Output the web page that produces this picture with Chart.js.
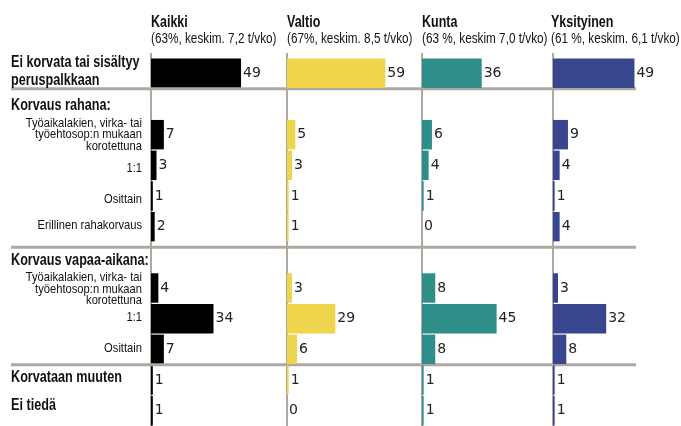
<!DOCTYPE html>
<html lang="fi">
<head>
<meta charset="UTF-8">
<title>Ylityökorvaukset</title>
<script src="https://cdn.jsdelivr.net/npm/chart.js"></script>
<style>
  html, body { margin: 0; padding: 0; background: #fff; }
  .wrap { position: relative; width: 681px; height: 426px; }
  .wrap canvas { position: absolute; left: 0; top: 0; }
</style>
</head>
<body>
<div class="wrap">
  <canvas id="c0" width="681" height="426"></canvas>
  <canvas id="c1" width="681" height="426"></canvas>
  <canvas id="c2" width="681" height="426"></canvas>
  <canvas id="c3" width="681" height="426"></canvas>
</div>
<script>
// rows (section headers have no bar)
const rowLabels = [
  ['Ei korvata tai sisältyy', 'peruspalkkaan'],
  ['Korvaus rahana:'],
  ['Työaikalakien, virka- tai', 'työehtosop:n mukaan', 'korotettuna'],
  ['1:1'],
  ['Osittain'],
  ['Erillinen rahakorvaus'],
  ['Korvaus vapaa-aikana:'],
  ['Työaikalakien, virka- tai', 'työehtosop:n mukaan', 'korotettuna'],
  ['1:1'],
  ['Osittain'],
  ['Korvataan muuten'],
  ['Ei tiedä']
];
const rowBold = [true, true, false, false, false, false, true, false, false, false, true, true];

const groups = ['Kaikki', 'Valtio', 'Kunta', 'Yksityinen'];
const groupNotes = [
  '(63%, keskim. 7,2 t/vko)',
  '(67%, keskim. 8,5 t/vko)',
  '(63 %, keskim 7,0 t/vko)',
  '(61 %, keskim. 6,1 t/vko)'
];

const kaikki     = [49, null, 7, 3, 1, 2, null, 4, 34, 7, 1, 1];
const valtio     = [59, null, 5, 3, 1, 1, null, 3, 29, 6, 1, 0];
const kunta      = [36, null, 6, 4, 1, 0, null, 8, 45, 8, 1, 1];
const yksityinen = [49, null, 9, 4, 1, 4, null, 3, 32, 8, 1, 1];
const series = [kaikki, valtio, kunta, yksityinen];

const colors = ['#000000', '#efd54b', '#2e8e89', '#38458f'];
const lineGray = '#aea8a0';
const sans = '"Liberation Sans", Arial, sans-serif';

// panel geometry: axis position, panel right edge, axis max
const panelLeft = [151, 287, 422, 553];
const panelRight = [287, 422, 553, 681];
const panelMax = [74, 81, 79, 77];
// small vertical nudges of the row labels, as in the original layout
const labelShift = [-1.5, 1.5, 0, 3, 3, -1, 3.5, 1, -1.5, -0.5, -2, -5.5];

// no condensed font installed, so squeeze Liberation Sans sideways
function narrowText(ctx, text, x, y, align, squeeze) {
  ctx.save();
  ctx.translate(x, y);
  ctx.scale(squeeze, 1);
  ctx.textAlign = align;
  ctx.fillText(text, 0, 0);
  ctx.restore();
}

const decor = {
  id: 'decor',
  beforeDatasetsDraw(chart) {
    const ctx = chart.ctx;
    const a = chart.chartArea;
    const x0 = chart.scales.x.getPixelForValue(0);
    ctx.save();
    ctx.strokeStyle = lineGray;
    ctx.lineWidth = 2;
    ctx.beginPath();
    ctx.moveTo(x0, a.top - 5);
    ctx.lineTo(x0, a.bottom);
    ctx.stroke();
    ctx.restore();
  },
  afterDatasetsDraw(chart, args, opts) {
    const ctx = chart.ctx;
    const a = chart.chartArea;
    const ys = chart.scales.y;
    const data = chart.data.datasets[0].data;
    ctx.save();
    // value labels
    ctx.fillStyle = '#222';
    ctx.font = '14px "DejaVu Sans", sans-serif';
    ctx.textBaseline = 'middle';
    ctx.textAlign = 'left';
    chart.getDatasetMeta(0).data.forEach((bar, i) => {
      if (data[i] === null) return;
      ctx.fillText(String(data[i]), bar.x + 2, bar.y);
    });
    // titles
    ctx.fillStyle = '#111';
    ctx.textBaseline = 'alphabetic';
    ctx.font = 'bold 16px ' + sans;
    narrowText(ctx, opts.title, a.left + opts.titleDx, 27, 'left', 0.78);
    ctx.font = '14px ' + sans;
    narrowText(ctx, opts.note, a.left + opts.titleDx, 43, 'left', 0.84);

    if (opts.rowText) {
      // section separators
      ctx.strokeStyle = lineGray;
      ctx.lineWidth = 3;
      [0.5, 5.67, 9.5].forEach(v => {
        const y = ys.getPixelForValue(v);
        ctx.beginPath();
        ctx.moveTo(11, y);
        ctx.lineTo(636, y);
        ctx.stroke();
      });
      // row labels
      ctx.fillStyle = '#111';
      ctx.textBaseline = 'middle';
      rowLabels.forEach((lines, i) => {
        const yc = ys.getPixelForValue(i) + labelShift[i];
        const bold = rowBold[i];
        const lh = bold ? 17.5 : 11.7;
        ctx.font = bold ? 'bold 16px ' + sans : '13px ' + sans;
        lines.forEach((t, k) => {
          const y = yc + (k - (lines.length - 1) / 2) * lh;
          if (bold) narrowText(ctx, t, 11, y, 'left', 0.79);
          else narrowText(ctx, t, 142, y, 'right', 0.86);
        });
      });
    }
    ctx.restore();
  }
};

groups.forEach((g, p) => {
  new Chart(document.getElementById('c' + p), {
    type: 'bar',
    data: {
      labels: rowLabels.map(l => l.join(' ')),
      datasets: [{
        data: series[p],
        backgroundColor: colors[p],
        barPercentage: 0.96,
        categoryPercentage: 1
      }]
    },
    options: {
      indexAxis: 'y',
      responsive: false,
      animation: false,
      layout: {
        padding: { left: panelLeft[p], right: 681 - panelRight[p], top: 58, bottom: 0 }
      },
      scales: {
        x: { display: false, min: 0, max: panelMax[p] },
        y: { display: false }
      },
      plugins: {
        legend: { display: false },
        tooltip: { enabled: false },
        decor: { title: g, note: groupNotes[p], rowText: p === 0, titleDx: p === 3 ? -2 : 0 }
      }
    },
    plugins: [decor]
  });
});
</script>
</body>
</html>
